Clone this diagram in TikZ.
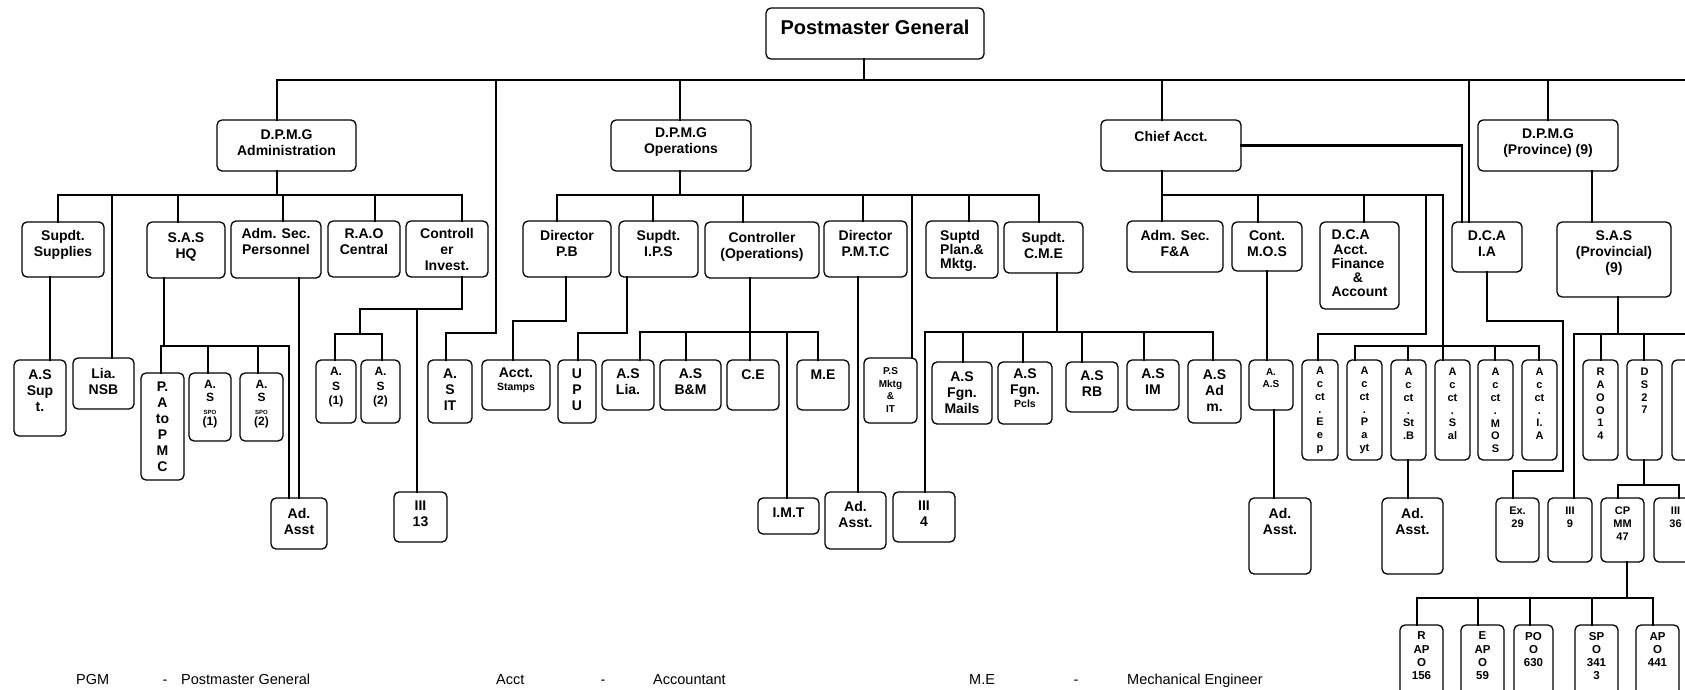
\documentclass[tikz,border=0pt]{standalone}
\usepackage{fontspec}
\setmainfont{Liberation Sans}
\newcommand\obox[8]{%
  \pgfmathsetmacro\bxw{#4-#2}%
  \pgfmathsetmacro\bxh{#5-#3}%
  \pgfmathsetmacro\bxx{(#2+#4)/2}%
  \pgfmathsetmacro\bxy{(#3+#5)/2}%
  \node[box,minimum width=\bxw pt,minimum height=\bxh pt] (#1) at (\bxx,\bxy) {};%
  \node[#6] (#1-t) at (\bxx,#7) {#8};%
}
\newcommand\dr[3]{\draw[ln] (#2,#3) -- (#1.north -| #2,0);}
\begin{document}
\begin{tikzpicture}[x=1pt,y=-1pt,
  box/.style={draw,line width=1.3pt,rounded corners=5pt,inner sep=0pt,fill=white},
  ln/.style={line width=2.4pt,line cap=rect},
  tP/.style={inner sep=0pt,align=center,font=\bfseries\fontsize{20}{22}\selectfont},
  tA/.style={inner sep=0pt,align=center,font=\bfseries\fontsize{14}{16}\selectfont},
  tAl/.style={inner sep=0pt,align=left,font=\bfseries\fontsize{14}{14.2}\selectfont},
  tM/.style={inner sep=0pt,align=center,font=\bfseries\fontsize{12}{14.5}\selectfont},
  tV/.style={inner sep=0pt,align=center,font=\bfseries\fontsize{11}{12.8}\selectfont},
  tN/.style={inner sep=0pt,align=center,font=\bfseries\fontsize{11}{13}\selectfont},
  tB/.style={inner sep=0pt,align=center,font=\bfseries\fontsize{11.5}{13.3}\selectfont},
  tS/.style={inner sep=0pt,align=center,font=\bfseries\fontsize{10}{12.6}\selectfont},
  lg/.style={inner sep=0pt,anchor=base west,font=\fontsize{14.5}{17}\selectfont}]
\useasboundingbox (0,0) rectangle (1685,689);
\fill[white] (0,0) rectangle (1685,689);
\clip (0,0) rectangle (1685,689);

% ---------- boxes ----------
\obox{pgm}{766}{8}{984}{59}{tP}{27}{Postmaster General}
\obox{adm}{217}{120}{356}{171}{tA}{142.5}{D.P.M.G\\Administration}
\obox{ops}{611}{120}{751}{171}{tA}{142.5}{D.P.M.G\\Operations}
\obox{chief}{1101}{120}{1241}{171}{tA}{136}{Chief Acct.}
\obox{prov}{1478}{120}{1618}{171}{tA}{143}{D.P.M.G\\(Province) (9)}

\obox{supp}{22}{222}{104}{277}{tA}{244.5}{Supdt.\\Supplies}
\obox{sashq}{147}{222}{225}{278}{tA}{246.5}{S.A.S\\HQ}
\obox{admsec}{231}{221}{321}{278}{tA}{241.5}{Adm. Sec.\\Personnel}
\obox{rao}{328}{221}{400}{277}{tA}{241.5}{R.A.O\\Central}
\obox{ctrl}{406}{221}{488}{277}{tA}{249.5}{Controll\\er\\Invest.}

\obox{dirpb}{523}{221}{611}{277}{tA}{243.5}{Director\\P.B}
\obox{ips}{619}{221}{698}{277}{tA}{243.5}{Supdt.\\I.P.S}
\obox{ctrlops}{705}{222}{819}{278}{tA}{246.5}{Controller\\(Operations)}
\obox{pmtc}{824}{221}{907}{277}{tA}{243.5}{Director\\P.M.T.C}
\obox{plan}{926}{221}{998}{278}{tAl}{251}{Suptd\\Plan.\&\\Mktg.}
\obox{cme}{1004}{222}{1083}{273}{tA}{245}{Supdt.\\C.M.E}

\obox{fa}{1127}{221}{1223}{272}{tA}{243.5}{Adm. Sec.\\F\&A}
\obox{mos}{1232}{222}{1302}{271}{tA}{243.5}{Cont.\\M.O.S}
\obox{dcafin}{1320}{222}{1399}{309}{tAl}{263.5}{\hfil D.C.A\hfil\\\hfil Acct.\hfil\\\hfil Finance\hfil\\\hfil \&\hfil\\\hfil Account\hfil}
\obox{dcaia}{1452}{222}{1522}{272}{tA}{244}{D.C.A\\I.A}
\obox{sasp}{1557}{222}{1671}{297}{tA}{253}{S.A.S\\(Provincial)\\(9)}

% row 3
\obox{assupt}{14}{360}{66}{436}{tA}{391}{A.S\\Sup\\t.}
\obox{lia}{73}{358}{134}{409}{tA}{381}{Lia.\\NSB}
\obox{papmc}{141}{373}{184}{480}{tA}{427}{P.\\A\\to\\P\\M\\C}
\obox{spo1}{189}{373}{231}{441}{tM}{404.5}{A.\\[-1.5pt]S\\[-2pt]{\fontsize{6}{6}\selectfont SPO}\\[-3pt](1)}
\obox{spo2}{240}{373}{283}{441}{tM}{404.5}{A.\\[-1.5pt]S\\[-2pt]{\fontsize{6}{6}\selectfont SPO}\\[-3pt](2)}
\obox{as1}{316}{360}{356}{423}{tM}{387.5}{A.\\S\\(1)}
\obox{as2}{361}{360}{400}{423}{tM}{387.5}{A.\\S\\(2)}
\obox{asit}{428}{360}{472}{423}{tA}{389.5}{A.\\S\\IT}
\obox{stamps}{482}{360}{550}{410}{tA}{380}{Acct.\\[-3pt]{\fontsize{10.5}{12}\selectfont Stamps}}
\obox{upu}{558}{360}{596}{423}{tA}{389.5}{U\\P\\U}
\obox{aslia}{602}{360}{654}{410}{tA}{382}{A.S\\Lia.}
\obox{asbm}{660}{360}{721}{410}{tA}{382}{A.S\\B\&M}
\obox{ce}{727}{360}{779}{410}{tA}{375}{C.E}
\obox{me}{797}{360}{849}{410}{tA}{375}{M.E}
\obox{psm}{864}{358}{917}{423}{tS}{390}{P.S\\Mktg\\\&\\IT}
\obox{fgnm}{932}{362}{992}{424}{tA}{392.5}{A.S\\Fgn.\\Mails}
\obox{fgnp}{998}{362}{1052}{424}{tA}{388}{A.S\\Fgn.\\[-3pt]{\fontsize{10.5}{12}\selectfont Pcls}}
\obox{rb}{1066}{362}{1118}{412}{tA}{384}{A.S\\RB}
\obox{im}{1127}{360}{1179}{410}{tA}{381.5}{A.S\\IM}
\obox{asadm}{1188}{360}{1241}{423}{tA}{391}{A.S\\Ad\\m.}
\obox{aas}{1249}{360}{1293}{410}{tS}{378}{A.\\A.S}
\obox{eep}{1302}{360}{1338}{460}{tV}{410.5}{A\\c\\ct\\.\\E\\e\\p}
\obox{payt}{1347}{360}{1382}{460}{tV}{410.5}{A\\c\\ct\\.\\P\\a\\yt}
\obox{stb}{1391}{360}{1426}{460}{tV}{404}{A\\c\\ct\\.\\St\\.B}
\obox{sal}{1435}{360}{1470}{460}{tV}{404}{A\\c\\ct\\.\\S\\al}
\obox{amos}{1478}{360}{1513}{460}{tV}{410.5}{A\\c\\ct\\.\\M\\O\\S}
\obox{aia}{1522}{360}{1557}{460}{tV}{404}{A\\c\\ct\\.\\I.\\A}
\obox{rao14}{1583}{360}{1618}{460}{tV}{404}{R\\A\\O\\O\\1\\4}
\obox{ds27}{1627}{360}{1662}{460}{tV}{391}{D\\S\\2\\7}
\obox{pbox}{1672}{360}{1712}{460}{tV}{404}{}

% row 4
\obox{adasst1}{271}{498}{327}{549}{tA}{521}{Ad.\\Asst}
\obox{iii13}{394}{492}{447}{542}{tA}{513.5}{III\\13}
\obox{imt}{758}{498}{819}{534}{tA}{513}{I.M.T}
\obox{adasst2}{825}{492}{886}{549}{tA}{514.5}{Ad.\\Asst.}
\obox{iii4}{893}{492}{955}{542}{tA}{514}{III\\4}
\obox{adasst3}{1249}{498}{1311}{574}{tA}{521}{Ad.\\Asst.}
\obox{adasst4}{1382}{498}{1443}{574}{tA}{521}{Ad.\\Asst.}
\obox{ex29}{1496}{498}{1539}{562}{tN}{517}{Ex.\\29}
\obox{iii9}{1548}{498}{1592}{562}{tN}{517}{III\\9}
\obox{cpmm}{1601}{498}{1644}{562}{tN}{523.5}{CP\\MM\\47}
\obox{iii36}{1654}{498}{1697}{562}{tN}{517}{III\\36}

% row 5
\obox{rapo}{1400}{625}{1443}{696}{tB}{656}{R\\AP\\O\\156}
\obox{eapo}{1461}{625}{1504}{696}{tB}{656}{E\\AP\\O\\59}
\obox{poo}{1514}{625}{1553}{696}{tB}{649.5}{PO\\O\\630}
\obox{spo}{1575}{625}{1618}{696}{tB}{656}{SP\\O\\341\\3}
\obox{apo}{1636}{625}{1679}{696}{tB}{649.5}{AP\\O\\441}

% ---------- connectors ----------
% top level
\draw[ln] (pgm.south -| 864,0) -- (864,80);
\draw[ln] (277,80) -- (1690,80);
\dr{adm}{277}{80}
\draw[ln] (496,80) -- (496,333) -- (446,333) -- (asit.north -| 446,0);
\dr{ops}{680}{80}
\dr{chief}{1162}{80}
\dr{dcaia}{1469}{80}
\dr{prov}{1548}{80}
\draw[ln] (chief.east) -- (1462,145.5) -- (dcaia.north -| 1462,0);

% administration
\draw[ln] (adm.south -| 277,0) -- (277,195);
\draw[ln] (58,195) -- (462,195);
\dr{supp}{58}{195}
\dr{lia}{112}{195}
\dr{sashq}{178}{195}
\dr{admsec}{283}{195}
\dr{rao}{375}{195}
\dr{ctrl}{462}{195}
\draw[ln] (supp.south -| 50,0) -- (assupt.north -| 50,0);
\draw[ln] (sashq.south -| 164,0) -- (164,346);
\draw[ln] (161,346) -- (289,346);
\dr{papmc}{161}{346}
\dr{spo1}{208}{346}
\dr{spo2}{258}{346}
\dr{adasst1}{289}{346}
\draw[ln] (admsec.south -| 299,0) -- (adasst1.north -| 299,0);
\draw[ln] (ctrl.south -| 462,0) -- (462,309) -- (360,309) -- (360,334);
\draw[ln] (335,334) -- (382,334);
\dr{as1}{335}{334}
\dr{as2}{382}{334}
\dr{iii13}{417}{309}

% operations
\draw[ln] (ops.south -| 680,0) -- (680,195);
\draw[ln] (557,195) -- (1039,195);
\dr{dirpb}{557}{195}
\dr{ips}{653}{195}
\dr{ctrlops}{743}{195}
\dr{pmtc}{863}{195}
\dr{psm}{912}{195}
\dr{plan}{969}{195}
\dr{cme}{1039}{195}
\draw[ln] (dirpb.south -| 566,0) -- (566,321) -- (513,321) -- (stamps.north -| 513,0);
\draw[ln] (ips.south -| 627,0) -- (627,333) -- (578,333) -- (upu.north -| 578,0);
\draw[ln] (ctrlops.south -| 750,0) -- (750,332);
\draw[ln] (640,332) -- (818,332);
\dr{aslia}{640}{332}
\dr{asbm}{686}{332}
\dr{ce}{750}{332}
\dr{imt}{787}{332}
\dr{me}{818}{332}
\draw[ln] (pmtc.south -| 858,0) -- (adasst2.north -| 858,0);
\draw[ln] (cme.south -| 1057,0) -- (1057,332);
\draw[ln] (925,332) -- (1213,332);
\dr{iii4}{925}{332}
\dr{fgnm}{963}{332}
\dr{fgnp}{1023}{332}
\dr{rb}{1082}{332}
\dr{im}{1144}{332}
\dr{asadm}{1213}{332}

% chief accountant
\draw[ln] (chief.south -| 1162,0) -- (1162,195);
\draw[ln] (1162,195) -- (1443,195);
\dr{fa}{1162}{195}
\dr{mos}{1258}{195}
\dr{dcafin}{1364}{195}
\draw[ln] (1426,195) -- (1426,334) -- (1318,334) -- (eep.north -| 1318,0);
\draw[ln] (1443,195) -- (1443,346);
\draw[ln] (1355,346) -- (1539,346);
\dr{payt}{1355}{346}
\dr{stb}{1408}{346}
\dr{sal}{1443}{346}
\dr{amos}{1495}{346}
\dr{aia}{1539}{346}
\draw[ln] (mos.south -| 1267,0) -- (aas.north -| 1267,0);
\draw[ln] (aas.south -| 1274,0) -- (adasst3.north -| 1274,0);
\draw[ln] (stb.south -| 1408,0) -- (adasst4.north -| 1408,0);
\draw[ln] (dcaia.south -| 1487,0) -- (1487,321) -- (1563,321) -- (1563,471) -- (1513,471) -- (ex29.north -| 1513,0);

% province
\draw[ln] (prov.south -| 1592,0) -- (sasp.north -| 1592,0);
\draw[ln] (sasp.south -| 1618,0) -- (1618,334);
\draw[ln] (1574,334) -- (1690,334);
\dr{iii9}{1574}{334}
\dr{rao14}{1601}{334}
\dr{ds27}{1644}{334}
\draw[ln] (ds27.south -| 1644,0) -- (1644,485);
\draw[ln] (1618,485) -- (1679,485);
\dr{cpmm}{1618}{485}
\dr{iii36}{1679}{485}
\draw[ln] (cpmm.south -| 1627,0) -- (1627,598);
\draw[ln] (1417,598) -- (1653,598);
\dr{rapo}{1417}{598}
\dr{eapo}{1478}{598}
\dr{poo}{1530}{598}
\dr{spo}{1592}{598}
\dr{apo}{1653}{598}

% ---------- legend ----------
\node[lg] (l1) at (76,684) {PGM};
\node[lg,anchor=base] (l2) at (165,684) {-};
\node[lg] (l3) at (181,684) {Postmaster General};
\node[lg] (l4) at (496,684) {Acct};
\node[lg,anchor=base] (l5) at (603,684) {-};
\node[lg] (l6) at (653,684) {Accountant};
\node[lg] (l7) at (969,684) {M.E};
\node[lg,anchor=base] (l8) at (1076,684) {-};
\node[lg] (l9) at (1127,684) {Mechanical Engineer};
\end{tikzpicture}
\end{document}
